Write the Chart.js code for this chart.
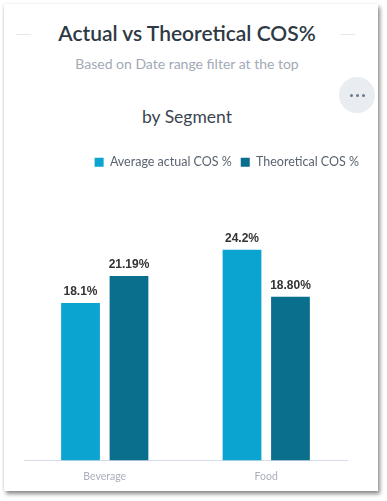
<!DOCTYPE html>
<html>
<head>
<meta charset="utf-8">
<script src="https://cdn.jsdelivr.net/npm/chart.js@4"></script>
<style>
  html, body { margin: 0; padding: 0; background: #ffffff; width: 387px; height: 501px; overflow: hidden; }
  .card {
    position: absolute; left: 4px; top: 4px; width: 374px; height: 487px;
    background: #fff;
    box-shadow: 2px 3px 4px rgba(0,0,0,0.45), -1px 0 2px rgba(0,0,0,0.08);
    font-family: Lato, "Open Sans", sans-serif;
  }
  .title {
    position: absolute; left: 0; width: 366px; top: 16px; text-align: center;
    font-size: 21px; font-weight: 600; color: #2e3944;
  }
  .rule { position: absolute; top: 30px; width: 15px; height: 1px; background: #e3e8ef; }
  .subtitle {
    position: absolute; left: 0; width: 366px; top: 51px; text-align: center;
    font-size: 14px; color: #a2aab6;
  }
  .menu {
    position: absolute; left: 335px; top: 73px; width: 36px; height: 36px; border-radius: 50%;
    background: #e9edf2;
  }
  .menu span {
    position: absolute; top: 17px; width: 3px; height: 3px; border-radius: 50%; background: #6b788c;
  }
  .segment {
    position: absolute; left: 0; width: 366px; top: 102px; text-align: center;
    font-size: 17.5px; color: #3b4551;
  }
  .chart-box { position: absolute; left: 0; top: 136px; width: 374px; height: 353px; }
</style>
</head>
<body>
<div class="card">
  <div class="rule" style="left:12px"></div>
  <div class="rule" style="left:336px"></div>
  <div class="title">Actual vs Theoretical COS%</div>
  <div class="subtitle">Based on Date range filter at the top</div>
  <div class="menu"><span style="left:11px"></span><span style="left:17px"></span><span style="left:23px"></span></div>
  <div class="segment">by Segment</div>
  <div class="chart-box"><canvas id="chart"></canvas></div>
</div>
<script>
// Données
const segments = ['Beverage', 'Food'];
const seriesNames = ['Average actual COS %', 'Theoretical COS %'];
const actualCos = [18.1, 24.2];
const theoreticalCos = [21.19, 18.80];
const actualLabels = ['18.1%', '24.2%'];
const theoreticalLabels = ['21.19%', '18.80%'];
const seriesColors = ['#0ba3d0', '#0a6e8d'];

// Étiquettes au-dessus des barres
const barLabels = {
    id: 'barLabels',
    afterDatasetsDraw(chart) {
        const ctx = chart.ctx;
        const texts = [actualLabels, theoreticalLabels];
        ctx.save();
        ctx.font = 'bold 12px "Liberation Sans", Arial, sans-serif';
        ctx.fillStyle = '#333333';
        ctx.textAlign = 'center';
        ctx.textBaseline = 'bottom';
        chart.data.datasets.forEach((ds, i) => {
            chart.getDatasetMeta(i).data.forEach((bar, j) => {
                ctx.fillText(texts[i][j], bar.x, bar.y - 5);
            });
        });
        ctx.restore();
    }
};

const ctx = document.getElementById('chart').getContext('2d');
new Chart(ctx, {
    type: 'bar',
    data: {
        labels: segments,
        datasets: [
            { label: seriesNames[0], data: actualCos, backgroundColor: seriesColors[0] },
            { label: seriesNames[1], data: theoreticalCos, backgroundColor: seriesColors[1] }
        ]
    },
    options: {
        responsive: true,
        maintainAspectRatio: false,
        animation: false,
        categoryPercentage: 0.6,
        barPercentage: 0.8,
        layout: { padding: { left: 20, right: 10, top: 7, bottom: 0 } },
        plugins: {
            legend: {
                position: 'top',
                align: 'end',
                labels: {
                    boxWidth: 9, boxHeight: 9, padding: 9,
                    color: '#5a6470',
                    font: { family: 'Lato', size: 12.5 }
                }
            },
            tooltip: { enabled: false }
        },
        scales: {
            x: {
                grid: { display: false, drawTicks: false },
                border: { color: '#d6dde8' },
                ticks: { color: '#a9afbb', font: { family: 'Lato', size: 10.5 }, padding: 10 }
            },
            y: {
                position: 'right',
                min: 0,
                max: 32.4,
                grid: { display: false, drawTicks: false },
                border: { display: false },
                ticks: { display: false },
                afterFit(scale) { scale.width = 21; }
            }
        }
    },
    plugins: [barLabels]
});
</script>
</body>
</html>
